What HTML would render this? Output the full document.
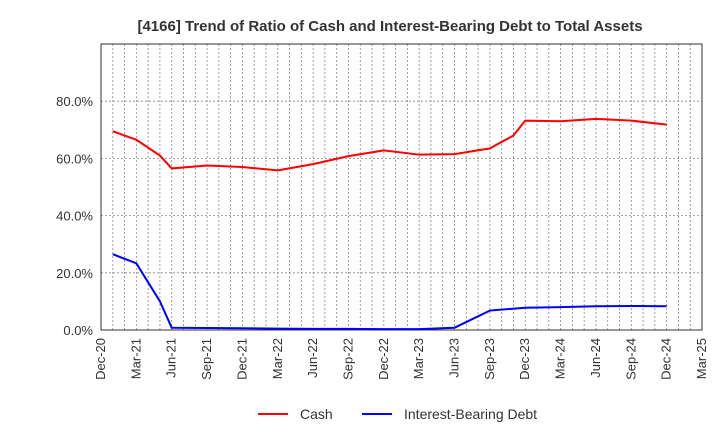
<!DOCTYPE html>
<html><head><meta charset="utf-8"><style>
body{margin:0;background:#fff;font-family:"Liberation Sans",sans-serif}
</style></head><body>
<svg width="720" height="440" xmlns="http://www.w3.org/2000/svg">
<text x="390" y="31" text-anchor="middle" font-size="15" font-weight="bold" fill="#333">[4166]  Trend of Ratio of Cash and Interest-Bearing Debt to Total Assets</text>
<g id="grid"></g>
<rect x="101" y="44" width="601" height="286" fill="none" stroke="#333"/>
<g id="axes"></g>
<g id="series"></g>
<g>
<line x1="258" y1="414" x2="288" y2="414" stroke="#f00" stroke-width="2"/>
<text x="300" y="419" font-size="14" fill="#333">Cash</text>
<line x1="362" y1="414" x2="392" y2="414" stroke="#00f" stroke-width="2"/>
<text x="404" y="419" font-size="14" fill="#333">Interest-Bearing Debt</text>
</g>
</svg>
<script>
const xTickLabels=["Dec-20","Mar-21","Jun-21","Sep-21","Dec-21","Mar-22","Jun-22","Sep-22","Dec-22","Mar-23","Jun-23","Sep-23","Dec-23","Mar-24","Jun-24","Sep-24","Dec-24","Mar-25"];
const yTicks=[0,20,40,60,80];
const cashMonths=[1,3,5,6,9,12,15,18,21,24,27,30,33,35,36,39,42,45,48];
const cashValues=[69.5,66.5,61,56.5,57.5,57,55.8,58,60.8,62.8,61.3,61.5,63.5,68,73.2,73,73.8,73.2,71.8];
const debtMonths=[1,3,5,6,9,12,15,18,21,24,27,30,33,36,39,42,45,48];
const debtValues=[26.5,23.3,10,0.8,0.7,0.6,0.5,0.4,0.4,0.3,0.3,0.8,6.8,7.8,8,8.3,8.4,8.3];
const X0=101,X1=702,Y0=330,Y1=44,MAXM=51,MAXY=100;
const xs=m=>X0+(X1-X0)*m/MAXM, ys=v=>Y0-(Y0-Y1)*v/MAXY;
const NS="http://www.w3.org/2000/svg";
const grid=document.getElementById('grid'),axes=document.getElementById('axes'),ser=document.getElementById('series');
function mk(tag,attrs,parent){const e=document.createElementNS(NS,tag);for(const k in attrs)e.setAttribute(k,attrs[k]);parent.appendChild(e);return e;}
for(let m=0;m<=MAXM;m++){const l=mk('line',{x1:xs(m),x2:xs(m),y1:Y1,y2:Y0,stroke:'#888','stroke-dasharray':'2,2','stroke-width':0.8},grid);

}
for(let v=0;v<=100;v+=20){const l=mk('line',{x1:X0,x2:X1,y1:ys(v),y2:ys(v),stroke:'#888','stroke-dasharray':'2,2','stroke-width':0.8},grid);

}
yTicks.forEach(v=>{const t=mk('text',{x:X0-8,y:ys(v)+5,'text-anchor':'end','font-size':13,fill:'#333'},axes);t.textContent=v.toFixed(1)+'%';

});
xTickLabels.forEach((s,i)=>{const x=xs(i*3);const t=mk('text',{x:x+4,y:Y0+8,'text-anchor':'end','font-size':13,fill:'#333',transform:`rotate(-90 ${x+4} ${Y0+8})`},axes);t.textContent=s;

});
function line(ms,vs,c,name){const p=mk('polyline',{points:ms.map((m,i)=>xs(m)+','+ys(vs[i])).join(' '),fill:'none',stroke:c,'stroke-width':2},ser);

}
line(cashMonths,cashValues,'#f00','cash-line');
line(debtMonths,debtValues,'#00f','debt-line');
</script>
</body></html>
